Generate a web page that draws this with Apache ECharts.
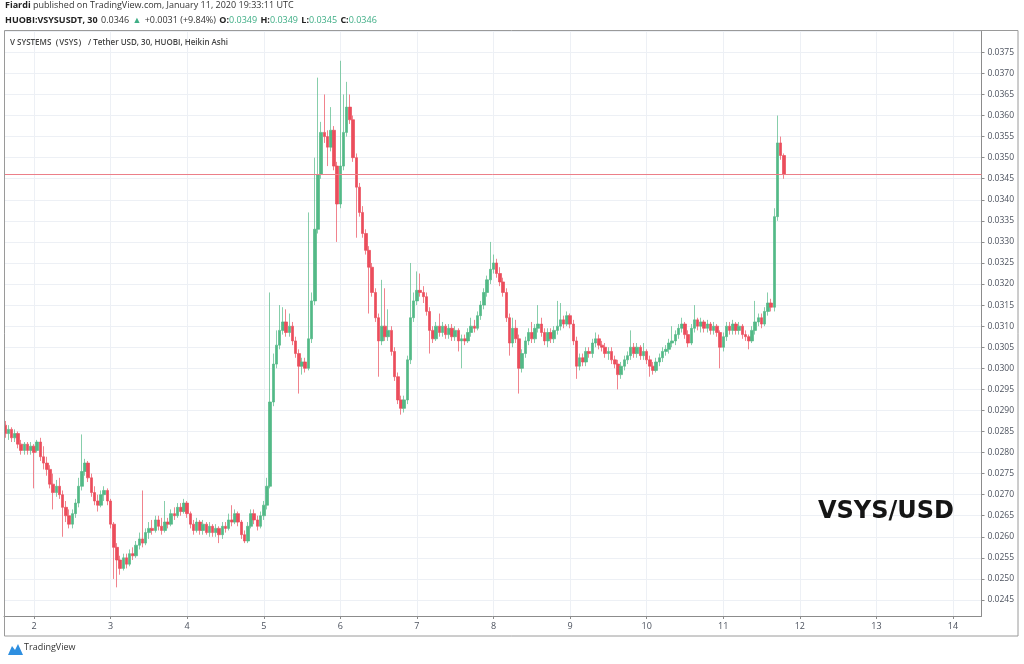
<!DOCTYPE html>
<html><head><meta charset="utf-8">
<script src="https://cdn.jsdelivr.net/npm/echarts@6/dist/echarts.min.js"></script>
<style>html,body{margin:0;padding:0;background:#fff}#c{width:1024px;height:664px}</style>
</head><body><div id="c"></div>
<script>
// Heikin Ashi candles, one per hour, first candle Jan 1 2020 15:00 UTC (x axis = day of January)
const firstCandleDay = 1.625;
const candleHours = 1;

const opens = [
0.02865,0.02845,0.02855,0.02835,0.02845,0.02820,0.02805,0.02820,0.02805,0.02815,
0.02805,0.02825,0.02790,0.02775,0.02760,0.02725,0.02705,0.02720,0.02700,0.02670,
0.02650,0.02630,0.02655,0.02680,0.02720,0.02755,0.02775,0.02740,0.02705,0.02685,
0.02675,0.02700,0.02710,0.02685,0.02630,0.02575,0.02545,0.02525,0.02550,0.02535,
0.02560,0.02555,0.02580,0.02595,0.02585,0.02610,0.02620,0.02615,0.02640,0.02625,
0.02615,0.02635,0.02630,0.02655,0.02650,0.02670,0.02660,0.02680,0.02655,0.02630,
0.02615,0.02635,0.02615,0.02630,0.02610,0.02625,0.02610,0.02620,0.02605,0.02625,
0.02620,0.02640,0.02635,0.02655,0.02635,0.02605,0.02590,0.02625,0.02655,0.02640,
0.02625,0.02650,0.02675,0.02720,0.02920,0.03010,0.03055,0.03090,0.03110,0.03085,
0.03100,0.03065,0.03035,0.03005,0.03015,0.03000,0.03070,0.03160,0.03330,0.03460,
0.03560,0.03550,0.03525,0.03565,0.03480,0.03390,0.03480,0.03560,0.03620,0.03590,
0.03500,0.03430,0.03370,0.03320,0.03280,0.03240,0.03180,0.03120,0.03065,0.03100,
0.03075,0.03090,0.03040,0.02980,0.02925,0.02905,0.02925,0.03020,0.03120,0.03160,
0.03185,0.03180,0.03170,0.03135,0.03090,0.03070,0.03100,0.03085,0.03100,0.03080,
0.03095,0.03075,0.03090,0.03065,0.03070,0.03065,0.03085,0.03100,0.03095,0.03125,
0.03150,0.03180,0.03210,0.03235,0.03250,0.03225,0.03205,0.03180,0.03120,0.03060,
0.03095,0.03070,0.03000,0.03035,0.03065,0.03085,0.03070,0.03095,0.03105,0.03085,
0.03065,0.03085,0.03070,0.03090,0.03100,0.03115,0.03105,0.03125,0.03105,0.03065,
0.03005,0.03025,0.03015,0.03040,0.03035,0.03060,0.03070,0.03055,0.03050,0.03035,
0.03040,0.03020,0.03010,0.02985,0.03005,0.03020,0.03030,0.03050,0.03035,0.03050,
0.03030,0.03040,0.03020,0.03005,0.02995,0.03015,0.03025,0.03040,0.03045,0.03060,
0.03065,0.03080,0.03095,0.03105,0.03080,0.03060,0.03095,0.03115,0.03100,0.03110,
0.03095,0.03105,0.03090,0.03100,0.03085,0.03050,0.03075,0.03100,0.03090,0.03105,
0.03090,0.03100,0.03080,0.03075,0.03065,0.03090,0.03110,0.03120,0.03105,0.03135,
0.03155,0.03145,0.03360,0.03535,0.03505
];
const closes = [
0.02845,0.02855,0.02835,0.02845,0.02820,0.02805,0.02820,0.02805,0.02815,0.02800,
0.02825,0.02790,0.02775,0.02760,0.02725,0.02705,0.02720,0.02700,0.02670,0.02650,
0.02630,0.02655,0.02680,0.02720,0.02755,0.02775,0.02740,0.02705,0.02685,0.02675,
0.02700,0.02710,0.02685,0.02630,0.02575,0.02545,0.02525,0.02550,0.02535,0.02560,
0.02555,0.02580,0.02595,0.02585,0.02610,0.02620,0.02615,0.02640,0.02625,0.02615,
0.02635,0.02630,0.02655,0.02650,0.02670,0.02660,0.02680,0.02655,0.02630,0.02615,
0.02635,0.02615,0.02630,0.02610,0.02625,0.02610,0.02620,0.02605,0.02625,0.02620,
0.02640,0.02635,0.02655,0.02635,0.02605,0.02590,0.02625,0.02655,0.02640,0.02625,
0.02650,0.02675,0.02720,0.02920,0.03010,0.03055,0.03090,0.03110,0.03085,0.03100,
0.03065,0.03035,0.03005,0.03015,0.03000,0.03070,0.03160,0.03330,0.03460,0.03560,
0.03550,0.03525,0.03565,0.03480,0.03390,0.03480,0.03560,0.03620,0.03590,0.03500,
0.03430,0.03370,0.03320,0.03280,0.03240,0.03180,0.03120,0.03065,0.03100,0.03075,
0.03090,0.03040,0.02980,0.02925,0.02905,0.02925,0.03020,0.03120,0.03160,0.03185,
0.03180,0.03170,0.03135,0.03090,0.03070,0.03100,0.03085,0.03100,0.03080,0.03095,
0.03075,0.03090,0.03065,0.03070,0.03065,0.03085,0.03100,0.03095,0.03125,0.03150,
0.03180,0.03210,0.03235,0.03250,0.03225,0.03205,0.03180,0.03120,0.03060,0.03095,
0.03070,0.03000,0.03035,0.03065,0.03085,0.03070,0.03095,0.03105,0.03085,0.03065,
0.03085,0.03070,0.03090,0.03100,0.03115,0.03105,0.03125,0.03105,0.03065,0.03005,
0.03025,0.03015,0.03040,0.03035,0.03060,0.03070,0.03055,0.03050,0.03035,0.03040,
0.03020,0.03010,0.02985,0.03005,0.03020,0.03030,0.03050,0.03035,0.03050,0.03030,
0.03040,0.03020,0.03005,0.02995,0.03015,0.03025,0.03040,0.03045,0.03060,0.03065,
0.03080,0.03095,0.03105,0.03080,0.03060,0.03095,0.03115,0.03100,0.03110,0.03095,
0.03105,0.03090,0.03100,0.03085,0.03050,0.03075,0.03100,0.03090,0.03105,0.03090,
0.03100,0.03080,0.03075,0.03065,0.03090,0.03110,0.03120,0.03105,0.03135,0.03155,
0.03145,0.03360,0.03535,0.03505,0.03460
];
const lows = [
0.02835,0.02830,0.02825,0.02825,0.02810,0.02795,0.02795,0.02795,0.02795,0.02715,
0.02800,0.02780,0.02760,0.02745,0.02715,0.02665,0.02695,0.02690,0.02600,0.02635,
0.02620,0.02620,0.02645,0.02670,0.02710,0.02745,0.02730,0.02695,0.02675,0.02660,
0.02670,0.02685,0.02675,0.02620,0.02500,0.02480,0.02510,0.02520,0.02525,0.02530,
0.02545,0.02550,0.02570,0.02575,0.02580,0.02595,0.02605,0.02610,0.02615,0.02605,
0.02610,0.02620,0.02625,0.02640,0.02645,0.02650,0.02655,0.02645,0.02620,0.02605,
0.02610,0.02605,0.02605,0.02605,0.02600,0.02600,0.02600,0.02585,0.02595,0.02610,
0.02615,0.02625,0.02630,0.02625,0.02595,0.02585,0.02585,0.02620,0.02630,0.02615,
0.02620,0.02640,0.02665,0.02715,0.02910,0.03000,0.03045,0.03080,0.03075,0.03075,
0.03055,0.03025,0.02940,0.02985,0.02990,0.02995,0.03060,0.03150,0.03320,0.03450,
0.03535,0.03480,0.03515,0.03470,0.03300,0.03380,0.03470,0.03550,0.03580,0.03490,
0.03310,0.03360,0.03310,0.03270,0.03130,0.03170,0.03110,0.02980,0.03055,0.03065,
0.03065,0.03030,0.02970,0.02915,0.02890,0.02895,0.02915,0.03010,0.03110,0.03150,
0.03170,0.03155,0.03125,0.03035,0.03060,0.03065,0.03075,0.03075,0.03070,0.03070,
0.03065,0.03065,0.03040,0.03000,0.03055,0.03060,0.03075,0.03085,0.03090,0.03115,
0.03140,0.03170,0.03200,0.03225,0.03215,0.03195,0.03170,0.03110,0.03030,0.03050,
0.03060,0.02940,0.02990,0.03025,0.03055,0.03060,0.03060,0.03085,0.03075,0.03055,
0.03050,0.03060,0.03060,0.03080,0.03090,0.03095,0.03100,0.03095,0.03055,0.02975,
0.02995,0.03005,0.03005,0.03025,0.03025,0.03050,0.03045,0.03040,0.03025,0.03020,
0.03010,0.03000,0.02950,0.02975,0.02995,0.03010,0.03020,0.03025,0.03025,0.03020,
0.03020,0.03010,0.02980,0.02985,0.02990,0.03005,0.03015,0.03030,0.03035,0.03050,
0.03055,0.03070,0.03085,0.03070,0.03050,0.03055,0.03085,0.03090,0.03085,0.03085,
0.03085,0.03080,0.03080,0.03075,0.03000,0.03040,0.03065,0.03080,0.03080,0.03080,
0.03080,0.03070,0.03065,0.03045,0.03060,0.03080,0.03100,0.03095,0.03100,0.03125,
0.03135,0.03135,0.03350,0.03495,0.03450
];
const highs = [
0.02875,0.02865,0.02860,0.02855,0.02850,0.02830,0.02825,0.02825,0.02825,0.02820,
0.02830,0.02835,0.02815,0.02790,0.02770,0.02750,0.02735,0.02740,0.02710,0.02685,
0.02665,0.02665,0.02690,0.02740,0.02843,0.02785,0.02780,0.02750,0.02720,0.02700,
0.02710,0.02720,0.02715,0.02690,0.02635,0.02585,0.02555,0.02560,0.02560,0.02570,
0.02575,0.02590,0.02610,0.02710,0.02620,0.02635,0.02640,0.02650,0.02650,0.02645,
0.02685,0.02645,0.02665,0.02670,0.02680,0.02680,0.02690,0.02685,0.02660,0.02640,
0.02645,0.02640,0.02640,0.02635,0.02635,0.02630,0.02630,0.02625,0.02635,0.02635,
0.02655,0.02675,0.02665,0.02660,0.02640,0.02615,0.02635,0.02665,0.02665,0.02650,
0.02660,0.02685,0.02740,0.03180,0.03035,0.03090,0.03150,0.03145,0.03140,0.03130,
0.03110,0.03075,0.03045,0.03025,0.03025,0.03370,0.03180,0.03500,0.03690,0.03585,
0.03650,0.03565,0.03620,0.03575,0.03490,0.03730,0.03650,0.03680,0.03650,0.03600,
0.03510,0.03440,0.03385,0.03330,0.03290,0.03250,0.03190,0.03130,0.03210,0.03190,
0.03140,0.03100,0.03050,0.02990,0.02935,0.02935,0.03030,0.03250,0.03180,0.03230,
0.03225,0.03195,0.03180,0.03145,0.03100,0.03110,0.03130,0.03110,0.03105,0.03105,
0.03105,0.03100,0.03095,0.03080,0.03080,0.03095,0.03120,0.03115,0.03135,0.03160,
0.03190,0.03220,0.03300,0.03270,0.03260,0.03240,0.03215,0.03190,0.03130,0.03120,
0.03115,0.03080,0.03045,0.03075,0.03095,0.03110,0.03105,0.03150,0.03120,0.03095,
0.03095,0.03095,0.03100,0.03160,0.03155,0.03125,0.03135,0.03130,0.03115,0.03075,
0.03035,0.03035,0.03050,0.03050,0.03070,0.03085,0.03080,0.03065,0.03060,0.03050,
0.03050,0.03030,0.03020,0.03015,0.03030,0.03040,0.03090,0.03060,0.03060,0.03055,
0.03060,0.03045,0.03030,0.03015,0.03025,0.03035,0.03050,0.03055,0.03070,0.03100,
0.03090,0.03105,0.03120,0.03110,0.03090,0.03105,0.03150,0.03120,0.03120,0.03115,
0.03115,0.03110,0.03110,0.03105,0.03090,0.03085,0.03110,0.03110,0.03115,0.03110,
0.03110,0.03105,0.03090,0.03080,0.03100,0.03160,0.03130,0.03130,0.03145,0.03180,
0.03165,0.03380,0.03600,0.03550,0.03510
];
const lastPrice = 0.0346;

const candles = opens.map((o, i) => [firstCandleDay + i * candleHours / 24, o, closes[i], lows[i], highs[i]]);

const UP = '#53b987', DOWN = '#eb4d5c';
const FONT = '"Open Sans", "Noto Sans", sans-serif';

const chart = echarts.init(document.getElementById('c'));
chart.setOption({
  animation: false,
  backgroundColor: '#ffffff',
  grid: { left: 4, right: 42.5, top: 31.5, bottom: 48, containLabel: false },
  xAxis: {
    type: 'value', min: 1.6083, max: 14.372, splitNumber: 13,
    axisLine: { show: true, onZero: false, lineStyle: { color: '#8c8c8c', width: 1 } },
    axisTick: { show: true, length: 3, lineStyle: { color: '#8c8c8c' } },
    axisLabel: { showMinLabel: false, showMaxLabel: false, color: '#4c525e', fontSize: 9, fontFamily: FONT, margin: 6,
      formatter: v => String(Math.round(v)) },
    splitLine: { show: true, lineStyle: { color: '#edf0f5', width: 1 } }
  },
  yAxis: {
    type: 'value', position: 'right', min: 0.02412, max: 0.037995, splitNumber: 28, scale: true,
    axisLine: { show: true, lineStyle: { color: '#8c8c8c', width: 1 } },
    axisTick: { show: true, length: 3, lineStyle: { color: '#8c8c8c' } },
    axisLabel: { showMinLabel: false, showMaxLabel: false, color: '#4c525e', fontSize: 8.5, fontFamily: FONT, margin: 6,
      formatter: v => v.toFixed(4) },
    splitLine: { show: true, lineStyle: { color: '#edf0f5', width: 1 } }
  },
  series: [{
    type: 'candlestick',
    data: candles,
    encode: { x: 0, y: [1, 2, 3, 4] },
    barWidth: 3,
    itemStyle: { color: UP, color0: DOWN, borderColor: UP, borderColor0: DOWN, borderWidth: 0.7 }
  }, {
    type: 'line',
    data: [],
    silent: true,
    markLine: {
      silent: true, precision: 5, symbol: ['none', 'none'], label: { show: false },
      lineStyle: { color: '#ec7f89', width: 1, type: 'solid' },
      data: [{ yAxis: lastPrice }]
    }
  }],
  graphic: [
    { type: 'rect', z: 100, silent: true, shape: { x: 4.5, y: 30.5, width: 1013.5, height: 605.5 },
      style: { fill: 'none', stroke: '#9a9a9a', lineWidth: 1 } },
    { type: 'text', left: 5, top: 1, z: 100, style: {
      text: '{b|Fiardi}{n| published on TradingView.com, January 11, 2020 19:33:11 UTC}',
      rich: { b: { fontSize: 9, fontFamily: FONT, fontWeight: 'bold', fill: '#222', color: '#222' },
              n: { fontSize: 9, fontFamily: FONT, fill: '#333', color: '#333' } } } },
    { type: 'text', left: 5, top: 14, z: 100, style: {
      text: '{b|HUOBI:VSYSUSDT, 30} {n|0.0346} {g|▲} {n|+0.0031 (+9.84%)} {b|O:}{g|0.0349} {b|H:}{g|0.0349} {b|L:}{g|0.0345} {b|C:}{g|0.0346}',
      rich: { b: { fontSize: 9, fontFamily: FONT, fontWeight: 'bold', fill: '#222', color: '#222' },
              n: { fontSize: 9, fontFamily: FONT, fill: '#333', color: '#333' },
              g: { fontSize: 9, fontFamily: FONT, fill: '#3fae86', color: '#3fae86' } } } },
    { type: 'text', left: 10, top: 39, z: 100, style: {
      text: 'V SYSTEMS（VSYS） / Tether USD, 30, HUOBI, Heikin Ashi',
      fontSize: 8, fontFamily: FONT, fontWeight: 600, fill: '#444' } },
    { type: 'text', left: 818, top: 500, z: 100, style: {
      text: 'VSYS/USD', fontSize: 24, fontFamily: '"DejaVu Sans", sans-serif', fontWeight: 'bold', fill: '#151515' } },
    { type: 'polygon', z: 100, silent: true, shape: { points: [[8, 655], [12, 646], [15, 650], [18, 644], [23, 655]] },
      style: { fill: '#2e8fe0' } },
    { type: 'text', left: 24, top: 643, z: 100, style: {
      text: 'TradingView', fontSize: 9, fontFamily: FONT, fill: '#333' } }
  ]
});
</script>
</body></html>
